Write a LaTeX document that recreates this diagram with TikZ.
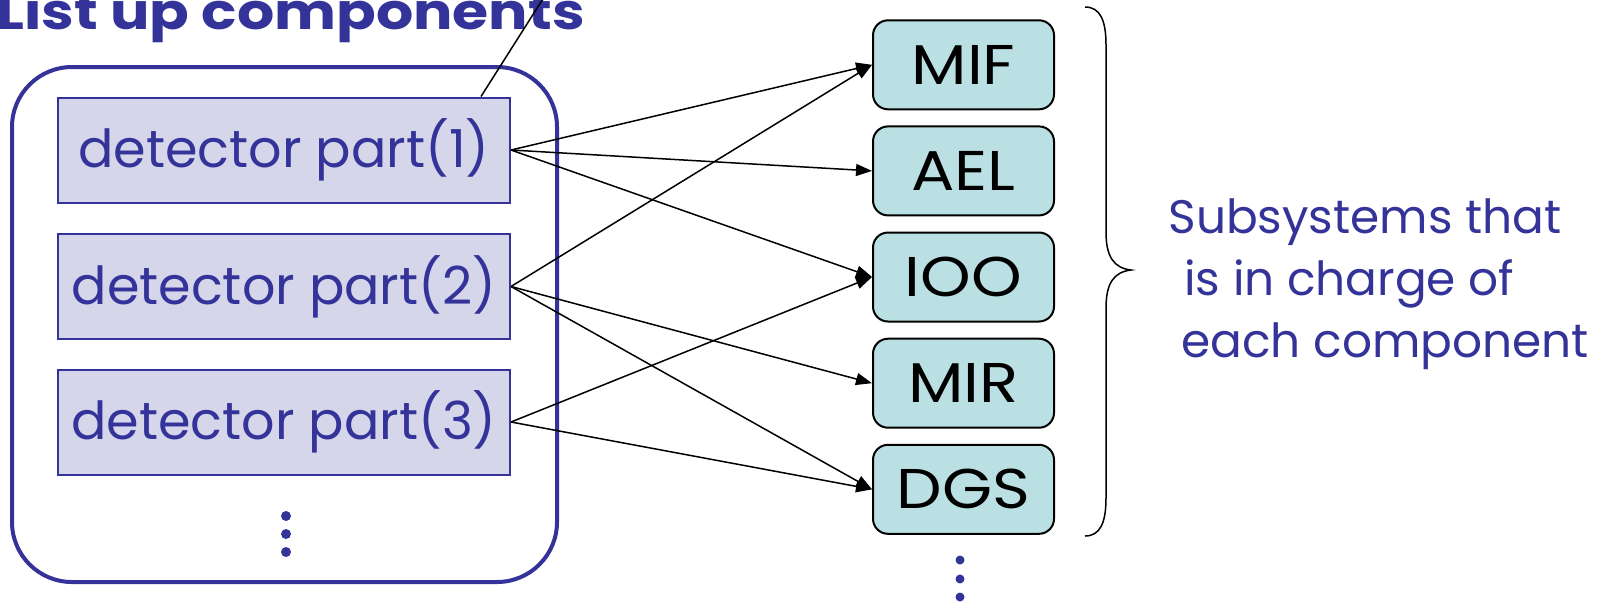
\documentclass[tikz,border=0pt]{standalone}
\usepackage{fontspec}
\setmainfont{Poppins}
\usetikzlibrary{arrows.meta}
\definecolor{ink}{HTML}{333399}
\definecolor{partfill}{HTML}{D6D6EB}
\definecolor{subfill}{HTML}{BBE0E3}
\begin{document}
\begin{tikzpicture}[x=0.5pt,y=-0.5pt,
  frame/.style={draw=ink, line width=2pt, rounded corners=30pt, minimum width=272.5pt, minimum height=257.5pt, inner sep=0pt},
  part/.style={draw=ink, line width=1pt, fill=partfill, minimum width=226pt, minimum height=52.5pt, inner sep=0pt, text=ink, font=\fontsize{26.2}{30}\selectfont},
  sub/.style={draw=black, line width=1pt, fill=subfill, rounded corners=7.5pt, minimum width=90.5pt, minimum height=44.5pt, inner sep=0pt, font=\fontsize{28}{30}\selectfont},
  link/.style={-{Triangle[length=8pt,width=6pt]}, line width=0.75pt},
  dot/.style={circle, fill=ink, inner sep=0pt, minimum size=5pt},
  note/.style={anchor=base west, text=ink, inner sep=0pt, font=\fontsize{23.5}{30}\selectfont}]
\useasboundingbox (0,0) rectangle (1600,602);

% title and its pointer
\node[anchor=base west, text=ink, inner sep=0pt, font=\bfseries\fontsize{25}{28}\selectfont] (title) at (-4,29) {\scalebox{1.17}[1]{List up components}};

% left frame with the detector parts
\node[frame] (box) at (284.5,324.5) {};
\node[part] (p1) at (284,150) {detector part(1)};
\node[part] (p2) at (284,286.5) {detector part(2)};
\node[part] (p3) at (284,422) {detector part(3)};
\node[dot] (ld1) at (286,516) {};
\node[dot] (ld2) at (286,534) {};
\node[dot] (ld3) at (286,552) {};

\coordinate (tagend) at (546,-6);
\draw[line width=0.75pt] ([xshift=-15pt]p1.north east) -- (tagend);

% subsystems
\newcommand{\wide}[1]{\scalebox{1.15}[1]{#1}}
\node[sub] (mif) at (963.5,64.8) {\wide{MIF}};
\node[sub] (ael) at (963.5,170.9) {\wide{AEL}};
\node[sub] (ioo) at (963.5,277) {\wide{IOO}};
\node[sub] (mir) at (963.5,383.2) {\wide{MIR}};
\node[sub] (dgs) at (963.5,489.3) {\wide{DGS}};
\node[dot, minimum size=4.5pt] (rd1) at (960,560) {};
\node[dot, minimum size=4.5pt] (rd2) at (960,579) {};
\node[dot, minimum size=4.5pt] (rd3) at (960,597) {};

% assignments
\draw[link] (p1.east) -- (mif.west);
\draw[link] (p1.east) -- (ael.west);
\draw[link] (p1.east) -- (ioo.west);
\draw[link] (p2.east) -- (mif.west);
\draw[link] (p2.east) -- (mir.west);
\draw[link] (p2.east) -- (dgs.west);
\draw[link] (p3.east) -- (ioo.west);
\draw[link] (p3.east) -- (dgs.west);

% brace and its note
\draw[line width=0.75pt] (1085,7) .. controls (1100,7) and (1106,20) .. (1106,45) -- (1106,232)
  .. controls (1106,257) and (1114,268) .. (1131,270)
  .. controls (1114,272) and (1106,283) .. (1106,308) -- (1106,498)
  .. controls (1106,523) and (1100,536) .. (1085,536);
\node[note] (n1) at (1168,233) {Subsystems that};
\node[note] (n2) at (1184,295) {is in charge of};
\node[note] (n3) at (1181,357) {each component};
\end{tikzpicture}
\end{document}
